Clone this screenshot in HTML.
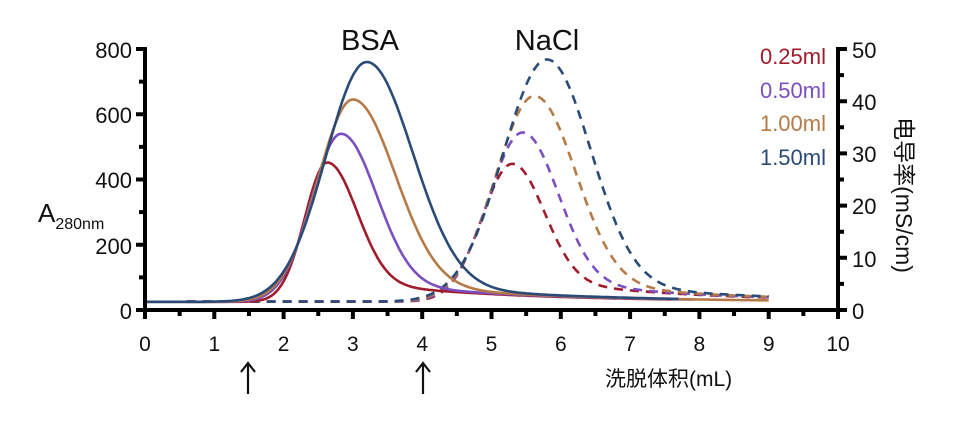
<!DOCTYPE html>
<html><head><meta charset="utf-8"><style>
body{margin:0;background:#fff;width:964px;height:425px;overflow:hidden}
svg text{font-family:"Liberation Sans","Noto Sans CJK SC",sans-serif;fill:#111}
</style></head><body>
<svg id="s" width="964" height="425" xmlns="http://www.w3.org/2000/svg">
<g font-size="22">
<text x="132" y="58" text-anchor="end">800</text>
<text x="132" y="123" text-anchor="end">600</text>
<text x="132" y="188" text-anchor="end">400</text>
<text x="132" y="254" text-anchor="end">200</text>
<text x="132" y="319" text-anchor="end">0</text>
<text x="852" y="58">50</text>
<text x="852" y="110">40</text>
<text x="852" y="162">30</text>
<text x="852" y="214">20</text>
<text x="852" y="267">10</text>
<text x="852" y="319">0</text>
</g>
<g font-size="21" text-anchor="middle" id="xl"></g>
<text x="38" y="222" font-size="26">A<tspan font-size="16" dy="7">280nm</tspan></text>
<text x="370" y="50" font-size="29" text-anchor="middle">BSA</text>
<text x="547" y="50" font-size="29" text-anchor="middle">NaCl</text>
<g font-size="22" text-anchor="end">
<text x="826" y="64" style="fill:#a01c2c">0.25ml</text>
<text x="826" y="98" style="fill:#7b4fbf">0.50ml</text>
<text x="826" y="131" style="fill:#b57a45">1.00ml</text>
<text x="826" y="165" style="fill:#2a4a78">1.50ml</text>
</g>
<text transform="translate(896,195) rotate(90)" font-size="23" text-anchor="middle">电导率(mS/cm)</text>
<text x="605" y="386" font-size="21">洗脱体积(mL)</text>
<g stroke="#111" stroke-width="2.2" fill="none">
<path d="M248 394V364M241 372L248 363L255 372"/>
<path d="M423 394V364M416 372L423 363L430 372"/>
</g>
<g id="c" fill="none" stroke-width="2.6"></g>
<g id="ax" stroke="#000" stroke-width="4" fill="none"></g>
</svg>
<script>
const X=v=>145+v*69.3, YL=v=>310-v*0.3263, YR=v=>310-v*5.22;
const ax=document.getElementById('ax'),xl=document.getElementById('xl'),c=document.getElementById('c');
let d='M145 47V310H838V47';
for(let i=0;i<=20;i++){const x=X(i/2);d+=`M${x} 310v${i%2?6:9}`;}
for(let i=0;i<=8;i++){d+=`M145 ${YL(i*100)}h${i%2?-6:-9}`;}
for(let i=0;i<=10;i++){d+=`M838 ${YR(i*5)}h${i%2?6:9}`;}
ax.innerHTML=`<path d="${d}"/>`;
for(let i=0;i<=10;i++)xl.innerHTML+=`<text x="${X(i)}" y="351">${i}</text>`;
function pk(x,p,h,sl,sr,base,T,tl){
 if(x<p){return base+(h-base)*Math.exp(-((x-p)**2)/(2*sl*sl));}
 const g=Math.exp(-((x-p)**2)/(2*sr*sr));
 return base+(h-base)*g+T*(1-g)*Math.exp(-(x-p)/tl);}
function path(f,a,b,Y){let s='';for(let x=a;x<=b+1e-9;x+=0.02){s+=(s?'L':'M')+X(x).toFixed(1)+' '+Y(f(x)).toFixed(1);}return s;}
const S=[['#a01c2c',2.63,452,0.322,0.42,0.6,7.6],['#7b4fbf',2.83,540,0.43,0.5,0,7.9],['#b57a45',3.0,645,0.503,0.6,0,9],['#2a4a78',3.2,760,0.59,0.65,0,7.7]];
const D=[['#a01c2c',5.3,28,0.44,0.45],['#7b4fbf',5.45,34,0.497,0.5],['#b57a45',5.62,41,0.564,0.58],['#2a4a78',5.8,48,0.635,0.62]];
let h='';
D.forEach(q=>{h+=`<path stroke="${q[0]}" stroke-dasharray="9 7" d="${path(x=>pk(x,q[1],q[2],q[3],q[4],1.6,5,2),0.6,9,YR)}"/>`;});
S.forEach(q=>{h+=`<path stroke="${q[0]}" d="${path(x=>pk(x,q[1],q[2],q[3],q[4],25,70,2.2),q[5],q[6],YL)}"/>`;});
c.innerHTML=h;
</script>
</body></html>
